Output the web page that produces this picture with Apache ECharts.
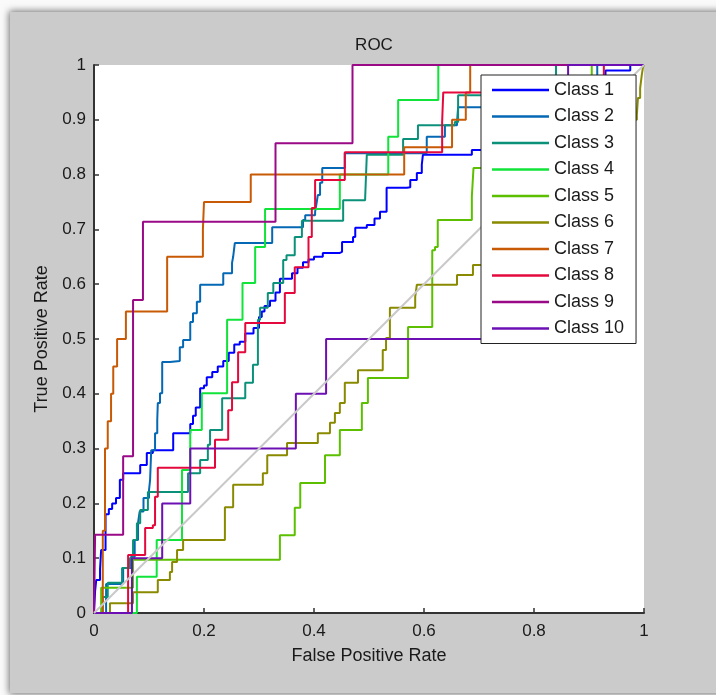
<!DOCTYPE html>
<html>
<head>
<meta charset="utf-8">
<title>ROC</title>
<script src="https://cdn.jsdelivr.net/npm/echarts@6/dist/echarts.min.js"></script>
<style>
    html, body {
        margin: 0;
        padding: 0;
        background: #fafafa;
        overflow: hidden;
    }
    #main {
        position: absolute;
        left: 10px;
        top: 12px;
        width: 712px;
        height: 681px;
        background: #cbcbcb;
        box-shadow: 0 0 7px 1px rgba(0, 0, 0, 0.55);
    }
</style>
</head>
<body>
<div id="main"></div>
<script>
(function () {
    "use strict";

    // ROC points [fpr, tpr], each point = where the curve steps up to tpr
    var class1 = [[0, 0], [0.002, 0.04], [0.004, 0.06], [0.011, 0.08], [0.013, 0.115], [0.021, 0.18], [0.027, 0.19],
        [0.033, 0.2], [0.04, 0.21], [0.047, 0.243], [0.053, 0.255], [0.084, 0.27], [0.096, 0.292], [0.107, 0.297],
        [0.144, 0.328], [0.175, 0.345], [0.18, 0.36], [0.185, 0.375], [0.193, 0.41], [0.2, 0.415], [0.205, 0.43],
        [0.215, 0.44], [0.225, 0.45], [0.235, 0.46], [0.245, 0.475], [0.255, 0.49], [0.265, 0.495], [0.275, 0.51],
        [0.29, 0.52], [0.3, 0.54], [0.305, 0.55], [0.31, 0.56], [0.32, 0.57], [0.33, 0.585], [0.338, 0.61],
        [0.36, 0.62], [0.37, 0.63], [0.38, 0.64], [0.39, 0.645], [0.4, 0.65], [0.416, 0.657], [0.447, 0.659],
        [0.451, 0.677], [0.471, 0.686], [0.475, 0.703], [0.496, 0.708], [0.51, 0.72], [0.52, 0.732], [0.532, 0.739],
        [0.532, 0.776], [0.569, 0.777], [0.575, 0.79], [0.587, 0.803], [0.596, 0.818], [0.598, 0.836],
        [0.687, 0.845], [0.75, 0.86], [0.8, 0.9], [0.85, 0.95], [0.93, 0.99], [0.975, 1], [1, 1]];
    var class2 = [[0, 0], [0.022, 0.029], [0.022, 0.053], [0.053, 0.082], [0.067, 0.102], [0.074, 0.133],
        [0.08, 0.164], [0.083, 0.185], [0.09, 0.21], [0.1, 0.224], [0.102, 0.243], [0.104, 0.297], [0.111, 0.328],
        [0.115, 0.352], [0.116, 0.383], [0.12, 0.401], [0.124, 0.458], [0.138, 0.46], [0.156, 0.485],
        [0.162, 0.498], [0.175, 0.531], [0.18, 0.547], [0.187, 0.568], [0.193, 0.599], [0.235, 0.62],
        [0.251, 0.639], [0.253, 0.65], [0.256, 0.675], [0.324, 0.704], [0.38, 0.717], [0.384, 0.726],
        [0.402, 0.732], [0.405, 0.75], [0.407, 0.763], [0.411, 0.785], [0.415, 0.812], [0.456, 0.839],
        [0.605, 0.869], [0.638, 0.89], [0.66, 0.894], [0.662, 0.923], [0.75, 0.93], [0.915, 1], [1, 1]];
    var class3 = [[0, 0], [0.016, 0.029], [0.025, 0.055], [0.051, 0.082], [0.065, 0.1], [0.071, 0.133],
        [0.078, 0.164], [0.084, 0.188], [0.098, 0.221], [0.171, 0.255], [0.193, 0.279], [0.207, 0.307],
        [0.211, 0.334], [0.233, 0.392], [0.275, 0.42], [0.289, 0.453], [0.298, 0.495], [0.298, 0.535],
        [0.302, 0.557], [0.316, 0.584], [0.326, 0.602], [0.344, 0.644], [0.35, 0.653], [0.365, 0.668],
        [0.365, 0.686], [0.378, 0.716], [0.453, 0.753], [0.493, 0.757], [0.496, 0.836], [0.562, 0.865],
        [0.589, 0.89], [0.656, 0.896], [0.662, 0.945], [0.84, 1], [1, 1]];
    var class4 = [[0, 0], [0.078, 0.066], [0.114, 0.133], [0.16, 0.261], [0.175, 0.334], [0.196, 0.401],
        [0.242, 0.535], [0.27, 0.602], [0.293, 0.668], [0.311, 0.737], [0.447, 0.8], [0.535, 0.869],
        [0.553, 0.936], [0.626, 1], [1, 1]];
    var class5 = [[0, 0], [0.013, 0.046], [0.071, 0.097], [0.338, 0.142], [0.365, 0.192], [0.375, 0.237],
        [0.42, 0.288], [0.447, 0.334], [0.487, 0.383], [0.498, 0.429], [0.571, 0.522], [0.615, 0.571],
        [0.615, 0.662], [0.62, 0.668], [0.625, 0.717], [0.687, 0.76], [0.69, 0.812], [0.8, 0.85], [0.905, 1], [1, 1]];
    var class6 = [[0, 0], [0.029, 0.018], [0.071, 0.038], [0.116, 0.06], [0.138, 0.075], [0.142, 0.093],
        [0.151, 0.115], [0.162, 0.133], [0.238, 0.193], [0.253, 0.234], [0.307, 0.255], [0.315, 0.288],
        [0.351, 0.31], [0.407, 0.328], [0.429, 0.347], [0.438, 0.365], [0.447, 0.383], [0.456, 0.42],
        [0.48, 0.443], [0.525, 0.48], [0.531, 0.502], [0.538, 0.557], [0.584, 0.577], [0.587, 0.599],
        [0.66, 0.617], [0.689, 0.635], [0.8, 0.7], [0.92, 0.8], [0.975, 0.9], [0.987, 0.909], [0.989, 0.94],
        [0.993, 0.958], [0.996, 0.982], [0.998, 0.995], [1, 1]];
    var class7 = [[0, 0], [0.016, 0.15], [0.02, 0.3], [0.025, 0.35], [0.031, 0.4], [0.035, 0.45], [0.042, 0.5],
        [0.058, 0.55], [0.133, 0.65], [0.198, 0.7], [0.2, 0.75], [0.285, 0.8], [0.564, 0.85], [0.651, 0.9],
        [0.676, 0.95], [0.684, 1], [1, 1]];
    var class8 = [[0, 0], [0.062, 0.106], [0.093, 0.155], [0.107, 0.16], [0.111, 0.212], [0.116, 0.265],
        [0.22, 0.316], [0.244, 0.37], [0.251, 0.421], [0.262, 0.476], [0.275, 0.529], [0.347, 0.584],
        [0.365, 0.631], [0.39, 0.686], [0.396, 0.739], [0.402, 0.79], [0.456, 0.841], [0.633, 0.896],
        [0.635, 0.95], [0.927, 1], [1, 1]];
    var class9 = [[0, 0], [0.002, 0.143], [0.053, 0.286], [0.071, 0.571], [0.089, 0.714], [0.33, 0.857],
        [0.47, 1], [1, 1]];
    var class10 = [[0, 0], [0.069, 0.1], [0.124, 0.2], [0.175, 0.3], [0.367, 0.4], [0.422, 0.5], [0.75, 0.6],
        [0.8, 0.8], [0.862, 1], [1, 1]];
    var chance = [[0, 0], [1, 1]];

    var classNames = ['Class 1', 'Class 2', 'Class 3', 'Class 4', 'Class 5',
        'Class 6', 'Class 7', 'Class 8', 'Class 9', 'Class 10'];
    var classData = [class1, class2, class3, class4, class5, class6, class7, class8, class9, class10];

    var colors = ['#0000ff', '#0568b4', '#0b917a', '#10e43a', '#5cc000',
        '#8a8a00', '#c85a05', '#e4083c', '#9a0a86', '#6c10b4'];

    var font = "'Liberation Sans', Arial, sans-serif";
    var textColor = '#1a1a1a';

    var myChart = echarts.init(document.getElementById('main'));

    var series = classNames.map(function (name, i) {
        return {
            name: name,
            type: 'line',
            step: 'end',
            symbol: 'none',
            clip: false,
            data: classData[i],
            lineStyle: {color: colors[i], width: 2},
            itemStyle: {color: colors[i]},
            z: 2 + i * 0.01
        };
    });
    series.push({
        name: 'chance',
        type: 'line',
        symbol: 'none',
        data: chance,
        lineStyle: {color: '#c9c9c9', width: 2},
        z: 3
    });

    var option = {
        backgroundColor: 'transparent',
        animation: false,
        title: {
            text: 'ROC',
            left: 359,
            top: 20,
            textAlign: 'center',
            textStyle: {fontFamily: font, fontSize: 17, fontWeight: 'normal', color: textColor}
        },
        legend: {
            data: classNames,
            orient: 'vertical',
            left: 471,
            top: 63,
            padding: [6, 12, 6, 11],
            icon: 'rect',
            itemWidth: 57,
            itemHeight: 2.5,
            itemGap: 8.5,
            backgroundColor: '#ffffff',
            borderColor: '#222222',
            borderWidth: 1,
            textStyle: {fontFamily: font, fontSize: 18, lineHeight: 18, color: textColor},
            z: 10
        },
        grid: {
            left: 84,
            top: 53,
            width: 550,
            height: 548,
            show: true,
            backgroundColor: '#ffffff',
            borderWidth: 0
        },
        xAxis: {
            type: 'value',
            min: 0,
            max: 1,
            interval: 0.2,
            name: 'False Positive Rate',
            nameLocation: 'middle',
            nameGap: 34,
            nameTextStyle: {fontFamily: font, fontSize: 18, color: textColor},
            axisLine: {show: true, lineStyle: {color: '#333333', width: 2}},
            axisTick: {show: true, inside: true, length: 5, lineStyle: {color: '#333333', width: 1.5}},
            axisLabel: {margin: 10, fontFamily: font, fontSize: 17, color: textColor},
            splitLine: {show: false}
        },
        yAxis: {
            type: 'value',
            min: 0,
            max: 1,
            interval: 0.1,
            name: 'True Positive Rate',
            nameLocation: 'middle',
            nameGap: 43,
            nameTextStyle: {fontFamily: font, fontSize: 18, color: textColor},
            axisLine: {show: true, lineStyle: {color: '#333333', width: 2}},
            axisTick: {show: true, inside: true, length: 5, lineStyle: {color: '#333333', width: 1.5}},
            axisLabel: {margin: 8, fontFamily: font, fontSize: 17, color: textColor},
            splitLine: {show: false}
        },
        series: series
    };

    myChart.setOption(option);
})();
</script>
</body>
</html>
